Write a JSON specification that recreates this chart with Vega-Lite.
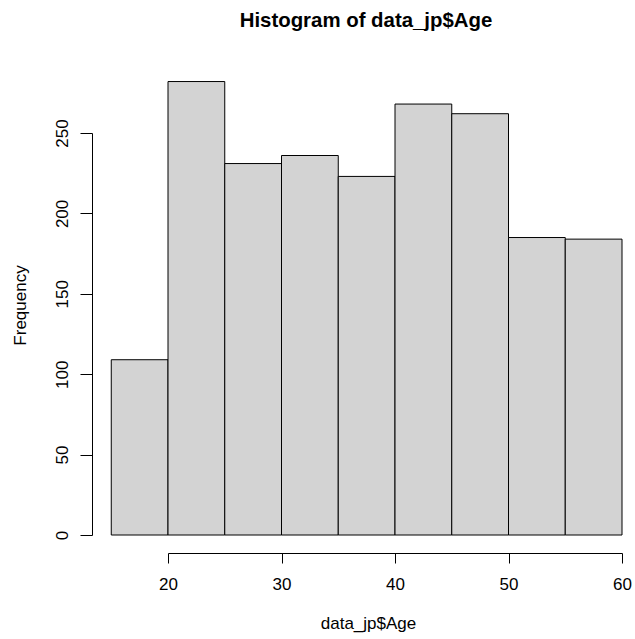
{
  "$schema": "https://vega.github.io/schema/vega-lite/v6.json",
  "autosize": {"type": "none"},
  "padding": {"left": 168, "top": 133, "right": 13, "bottom": 104},
  "width": 454,
  "height": 402,
  "background": "white",
  "title": {
    "text": "Histogram of data_jp$Age",
    "font": "Liberation Sans",
    "fontSize": 20.4,
    "fontWeight": "bold",
    "color": "black",
    "anchor": "middle",
    "frame": "group",
    "baseline": "alphabetic",
    "offset": 34,
    "dx": -29
  },
  "config": {
    "view": {"stroke": null},
    "axis": {
      "grid": false,
      "labelFlush": false,
      "labelOverlap": false,
      "domainColor": "black",
      "domainWidth": 1,
      "tickColor": "black",
      "tickWidth": 1,
      "labelFont": "Liberation Sans",
      "labelFontSize": 17,
      "labelColor": "black",
      "titleFont": "Liberation Sans",
      "titleFontSize": 17,
      "titleFontWeight": "normal",
      "titleColor": "black"
    }
  },
  "data": {
    "values": [
      {"age_start": 15, "age_end": 20, "count": 109},
      {"age_start": 20, "age_end": 25, "count": 282},
      {"age_start": 25, "age_end": 30, "count": 231},
      {"age_start": 30, "age_end": 35, "count": 236},
      {"age_start": 35, "age_end": 40, "count": 223},
      {"age_start": 40, "age_end": 45, "count": 268},
      {"age_start": 45, "age_end": 50, "count": 262},
      {"age_start": 50, "age_end": 55, "count": 185},
      {"age_start": 55, "age_end": 60, "count": 184}
    ]
  },
  "mark": {
    "type": "bar",
    "fill": "#d3d3d3",
    "stroke": "black",
    "strokeWidth": 1,
    "clip": false
  },
  "encoding": {
    "x": {
      "field": "age_start",
      "type": "quantitative",
      "scale": {"domain": [20, 60], "nice": false, "zero": false},
      "axis": {
        "title": "data_jp$Age",
        "values": [20, 30, 40, 50, 60],
        "offset": 18,
        "tickSize": 10,
        "labelPadding": 13,
        "labelBaseline": "top",
        "titleX": 200,
        "titleY": 75,
        "titleBaseline": "alphabetic",
        "titleAlign": "center"
      }
    },
    "x2": {"field": "age_end"},
    "y": {
      "field": "count",
      "type": "quantitative",
      "scale": {"domain": [0, 250], "nice": false, "zero": true},
      "axis": {
        "title": "Frequency",
        "values": [0, 50, 100, 150, 200, 250],
        "offset": 76,
        "tickSize": 12,
        "labelAngle": -90,
        "labelAlign": "center",
        "labelBaseline": "alphabetic",
        "labelPadding": 13,
        "titleAngle": -90,
        "titleX": -72,
        "titleY": 172,
        "titleAlign": "center",
        "titleBaseline": "middle"
      }
    },
    "y2": {"datum": 0}
  }
}
